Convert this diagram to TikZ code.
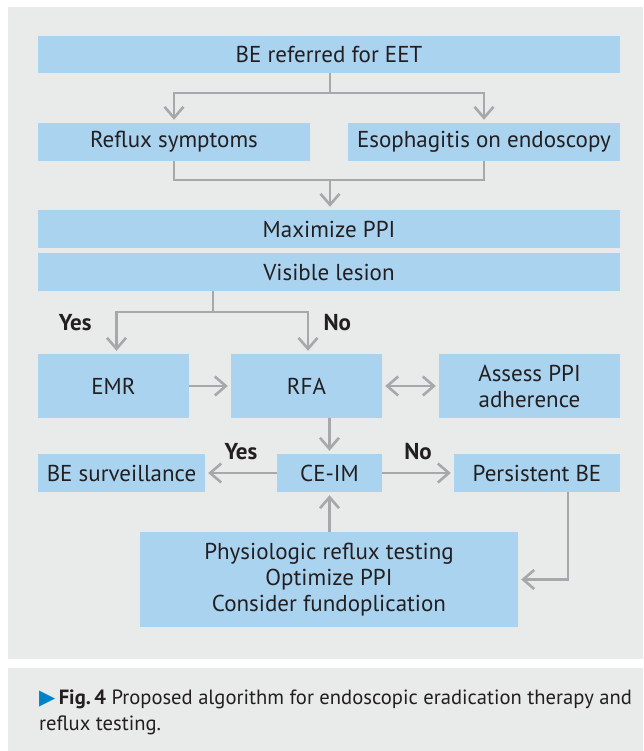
\documentclass[tikz,border=0pt]{standalone}
\usepackage{fontspec}
\setmainfont{PT Sans}
\newfontfamily\symfont{DejaVu Sans}
\usetikzlibrary{arrows.meta,calc}
\definecolor{boxblue}{RGB}{170,211,240}
\definecolor{panelgray}{RGB}{233,234,234}
\definecolor{linegray}{RGB}{166,168,170}
\definecolor{ink}{RGB}{35,31,32}
\definecolor{figblue}{RGB}{0,130,200}
\newcommand{\boxfont}{\fontsize{23}{26}\selectfont}

\begin{document}
\begin{tikzpicture}[
    x=1pt, y=-1pt,
    stepbox/.style={fill=boxblue, inner sep=0pt, align=center, text=ink, font=\boxfont},
    arr/.style={-{Straight Barb[length=11pt,width=19pt]}, line width=2.6pt, draw=linegray, shorten >=3pt},
    dbl/.style={{Straight Barb[length=11pt,width=19pt]}-{Straight Barb[length=11pt,width=19pt]}, line width=2.6pt, draw=linegray, shorten >=3pt, shorten <=3pt},
    conn/.style={line width=2.6pt, draw=linegray},
    lbl/.style={font=\boxfont\bfseries, text=ink}
]
\useasboundingbox (0,0) rectangle (643,751);
\fill[white] (0,0) rectangle (643,751);

% panels
\fill[panelgray] (8,7) rectangle (643,659);
\fill[panelgray] (8,668) rectangle (643,751);

% top
\node[stepbox, minimum width=582pt, minimum height=37pt] (top) at (329,54.5) {BE referred for EET};

% indications
\node[stepbox, minimum width=272pt, minimum height=38pt] (reflux) at (174,142) {Reflux symptoms};
\node[stepbox, minimum width=272pt, minimum height=38pt] (esoph) at (484,142) {Esophagitis on endoscopy};

% full-width steps
\node[stepbox, minimum width=582pt, minimum height=38pt] (maxppi) at (329,229) {Maximize PPI};
\node[stepbox, minimum width=582pt, minimum height=38pt] (lesion) at (329,272) {Visible lesion};

% treatment
\node[stepbox, minimum width=151pt, minimum height=64pt] (emr) at (113.5,386) {EMR};
\node[stepbox, minimum width=151pt, minimum height=64pt] (rfa) at (306.5,386) {RFA};
\node[stepbox, minimum width=181pt, minimum height=64pt] (assess) at (529.5,386) {Assess PPI\\adherence};

% outcome
\node[stepbox, minimum width=167pt, minimum height=38pt] (surv) at (121.5,473) {BE surveillance};
\node[stepbox, minimum width=105pt, minimum height=38pt] (ceim) at (329.5,473) {CE-IM};
\node[stepbox, minimum width=166pt, minimum height=38pt] (persist) at (537,473) {Persistent BE};

% follow-up
\node[stepbox, minimum width=378pt, minimum height=95pt] (physio) at (329,579.5) {Physiologic reflux testing\\Optimize PPI\\Consider fundoplication};

% edges
\coordinate (s1) at (330,93);
\draw[conn] (top.south -| s1) -- (s1);
\draw[arr] (s1) -| (reflux.north);
\draw[arr] (s1) -| (esoph.north);

\coordinate (j1) at (330,180);
\draw[conn] (reflux.south) |- (j1) -| (esoph.south);
\draw[arr] (j1) -- (j1 |- maxppi.north);

\coordinate (s2) at (213,312);
\draw[conn] (lesion.south -| s2) -- (s2);
\draw[arr] (s2) -| ([xshift=3pt]emr.north);
\draw[arr] (s2) -| ([xshift=1.5pt]rfa.north);
\node[lbl, anchor=east] (yes1) at (95,323) {Yes};
\node[lbl, anchor=west] (no1) at (320,323) {No};

\draw[arr] (emr) -- (rfa);
\draw[dbl] (rfa) -- (assess);
\draw[arr] (rfa.south -| ceim) -- (ceim);

\draw[arr] (ceim) -- (surv) node[lbl, midway, above=9pt] (yes2) {Yes};
\draw[arr] (ceim) -- (persist) node[lbl, midway, above=9pt] (no2) {No};

\draw[arr] (physio.north -| ceim) -- (ceim);
\draw[arr] ([xshift=31pt]persist.south) |- (physio.east);

% caption
\node[anchor=base west, align=left, text=ink, font=\fontsize{20.6}{26}\selectfont, inner sep=0pt] (cap) at (39,730)
  {{\symfont\fontsize{21}{26}\selectfont\color{figblue}▶}\,\textbf{Fig.\,4} Proposed algorithm for endoscopic eradication therapy and\\reflux testing.};

\end{tikzpicture}
\end{document}
